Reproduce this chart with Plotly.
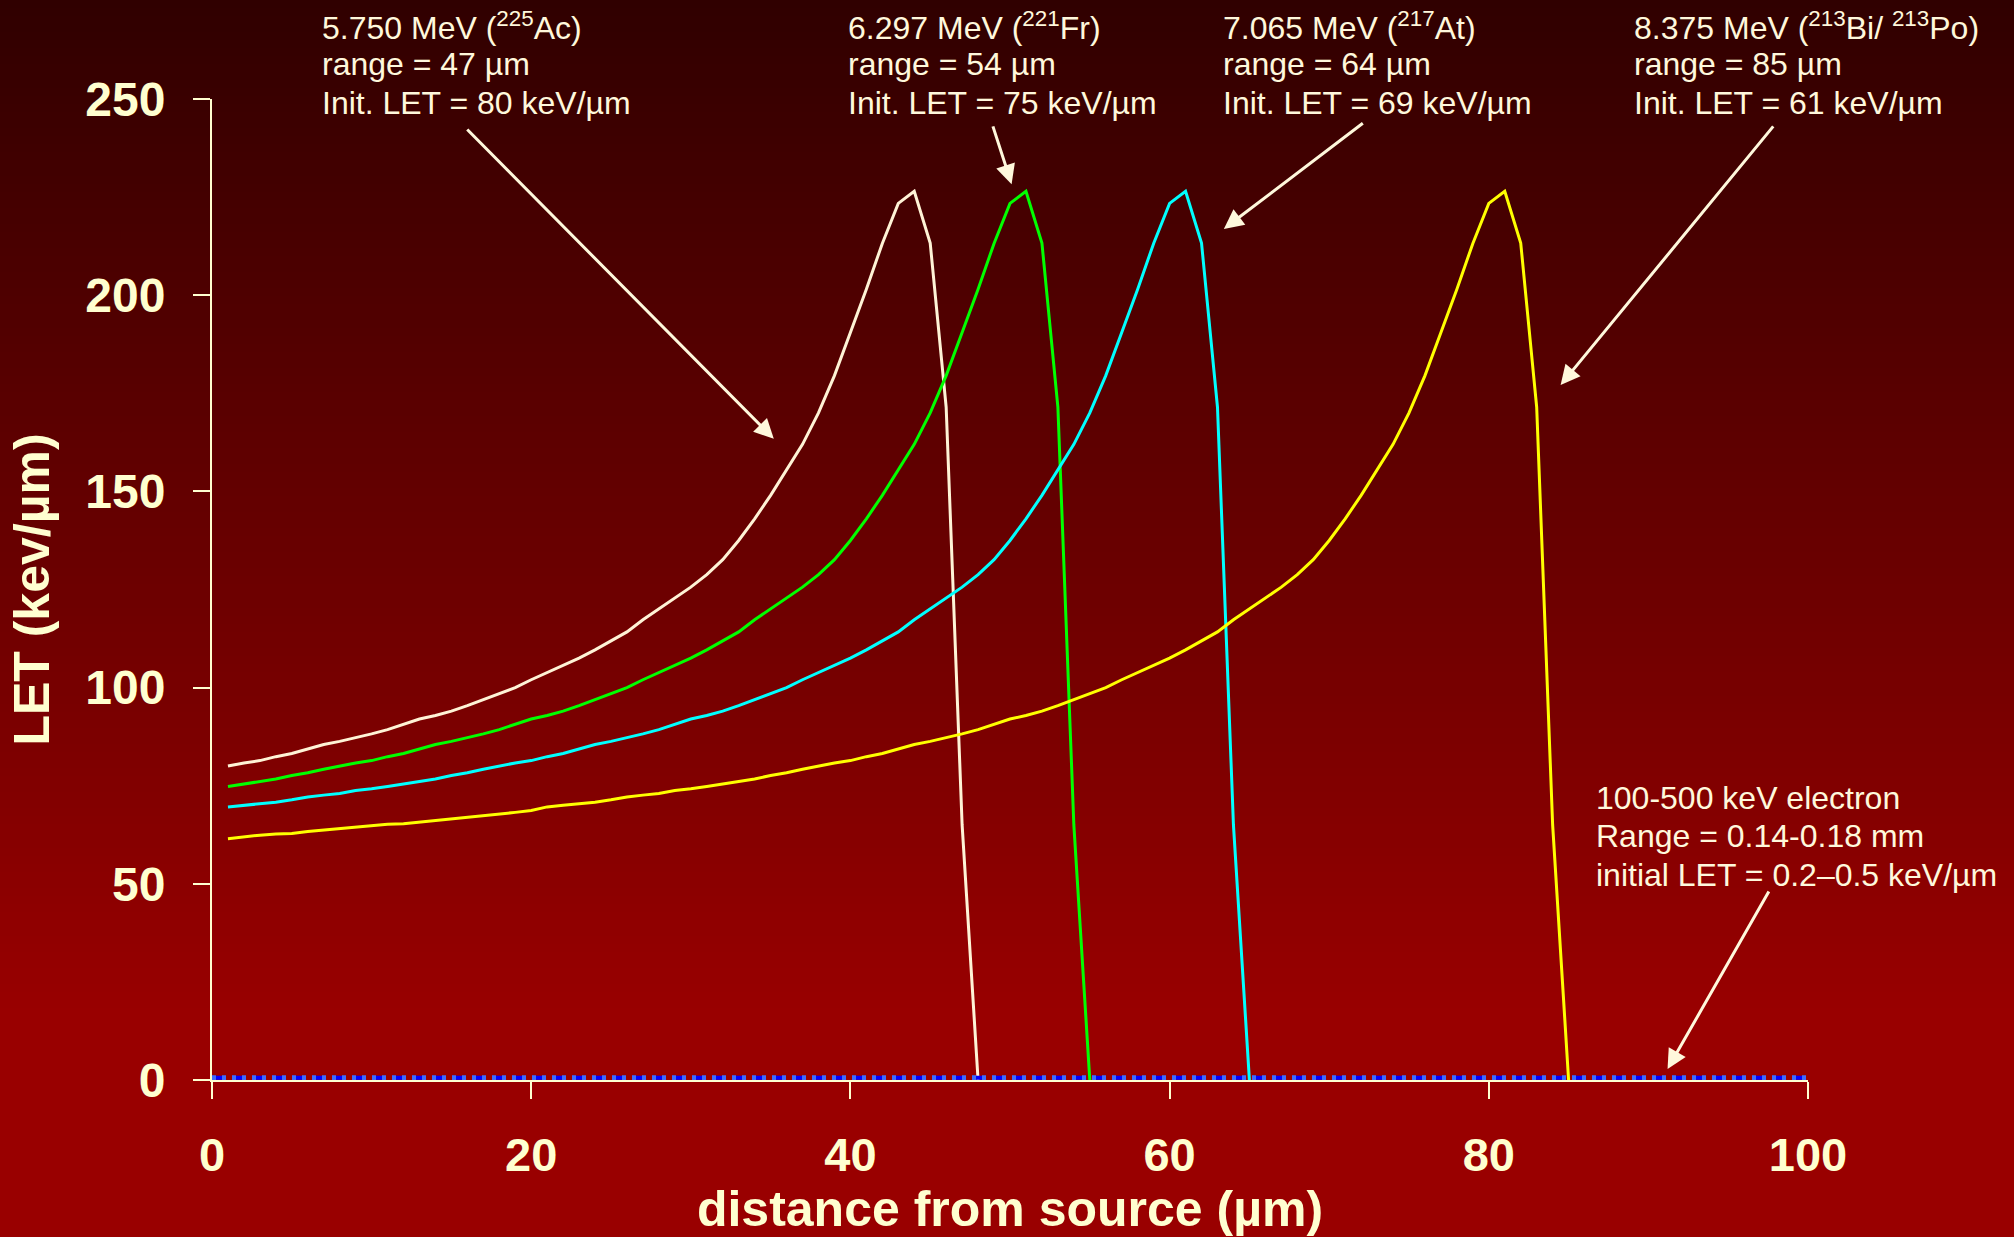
import plotly.graph_objects as go

# ---------------- data ----------------
# 5.750 MeV (225Ac) alpha, depth 1..48 um
depth_ac = list(range(1, 49))
let_ac = [80.0, 80.8, 81.4, 82.4, 83.2, 84.4, 85.5, 86.3, 87.2, 88.2,
          89.3, 90.7, 92.0, 92.9, 94.0, 95.4, 97.0, 98.5, 100.0, 102.0,
          103.8, 105.5, 107.5, 109.6, 111.8, 114.2, 117.3, 120.0, 122.7, 125.6,
          128.8, 132.6, 137.5, 143.0, 149.0, 155.5, 162.0, 170.0, 179.5, 190.5,
          201.5, 213.2, 223.4, 226.5, 213.3, 171.5, 65.0, 0.0]

# 6.297 MeV (221Fr) alpha, depth 1..55 um
depth_fr = list(range(1, 56))
let_fr = [74.8, 75.4, 76.0, 76.7, 77.6, 78.3, 79.2,
          80.0, 80.8, 81.4, 82.4, 83.2, 84.4, 85.5, 86.3, 87.2, 88.2,
          89.3, 90.7, 92.0, 92.9, 94.0, 95.4, 97.0, 98.5, 100.0, 102.0,
          103.8, 105.5, 107.5, 109.6, 111.8, 114.2, 117.3, 120.0, 122.7, 125.6,
          128.8, 132.6, 137.5, 143.0, 149.0, 155.5, 162.0, 170.0, 179.5, 190.5,
          201.5, 213.2, 223.4, 226.5, 213.3, 171.5, 65.0, 0.0]

# 7.065 MeV (217At) alpha, depth 1..65 um
depth_at = list(range(1, 66))
let_at = [69.6, 70.0, 70.4, 70.8, 71.4, 72.1, 72.6, 73.0, 73.8, 74.2,
          74.8, 75.4, 76.0, 76.7, 77.6, 78.3, 79.2,
          80.0, 80.8, 81.4, 82.4, 83.2, 84.4, 85.5, 86.3, 87.2, 88.2,
          89.3, 90.7, 92.0, 92.9, 94.0, 95.4, 97.0, 98.5, 100.0, 102.0,
          103.8, 105.5, 107.5, 109.6, 111.8, 114.2, 117.3, 120.0, 122.7, 125.6,
          128.8, 132.6, 137.5, 143.0, 149.0, 155.5, 162.0, 170.0, 179.5, 190.5,
          201.5, 213.2, 223.4, 226.5, 213.3, 171.5, 65.0, 0.0]

# 8.375 MeV (213Bi/213Po) alpha, depth 1..85 um
depth_bi = list(range(1, 86))
let_bi = [61.5, 62.0, 62.4, 62.7, 62.8, 63.3, 63.7, 64.1, 64.5, 64.9,
          65.2, 65.3, 65.7, 66.2, 66.6, 67.0, 67.4, 67.8, 68.2, 68.7,
          69.6, 70.0, 70.4, 70.8, 71.4, 72.1, 72.6, 73.0, 73.8, 74.2,
          74.8, 75.4, 76.0, 76.7, 77.6, 78.3, 79.2,
          80.0, 80.8, 81.4, 82.4, 83.2, 84.4, 85.5, 86.3, 87.2, 88.2,
          89.3, 90.7, 92.0, 92.9, 94.0, 95.4, 97.0, 98.5, 100.0, 102.0,
          103.8, 105.5, 107.5, 109.6, 111.8, 114.2, 117.3, 120.0, 122.7, 125.6,
          128.8, 132.6, 137.5, 143.0, 149.0, 155.5, 162.0, 170.0, 179.5, 190.5,
          201.5, 213.2, 223.4, 226.5, 213.3, 171.5, 65.0, 0.0]

# 100-500 keV electron
depth_e = [0, 100]
let_e = [0.6, 0.6]

x_ticks = [0, 20, 40, 60, 80, 100]
y_ticks = [0, 50, 100, 150, 200, 250]

# ---------------- styling ----------------
W, H = 2014, 1237
ML, MR, MT, MB = 212, 206, 99, 157
PW, PH = W - ML - MR, H - MT - MB
CREAM = "#FFFFD0"
TXT = "#FFF8DC"
FONT = "Liberation Sans, Arial, sans-serif"

fig = go.Figure()

series = [
    (depth_ac, let_ac, "#FFF3D6"),
    (depth_fr, let_fr, "#00FF00"),
    (depth_at, let_at, "#00FFFF"),
    (depth_bi, let_bi, "#FFFF00"),
]
for xs, ys, col in series:
    fig.add_trace(go.Scatter(x=xs, y=ys, mode="lines",
                             line=dict(color=col, width=3),
                             showlegend=False, hoverinfo="skip"))

fig.add_trace(go.Scatter(x=depth_e, y=let_e, mode="lines",
                         line=dict(color="#0000FF", width=4, dash="10px,10px"),
                         showlegend=False, hoverinfo="skip", cliponaxis=False))
fig.add_trace(go.Scatter(x=depth_e, y=let_e, mode="lines",
                         line=dict(color="#3D6BFF", width=5, dash="4px,6px"),
                         showlegend=False, hoverinfo="skip", cliponaxis=False))

# gradient background built from horizontal strips (pixel -> paper)
shapes = []
step = 8
for py in range(0, H, step):
    c = int(min(153, 48 + 0.104 * (py + step / 2)))
    y0 = (H - MB - (py + step)) / PH
    y1 = (H - MB - py) / PH
    shapes.append(dict(type="rect", xref="paper", yref="paper",
                       x0=-0.2, x1=1.2, y0=y0, y1=y1, layer="below",
                       line=dict(width=0), fillcolor=f"rgb({c},0,0)"))


def px_x(p):
    return (p - ML) / PW


def px_y(p):
    return (H - MB - p) / PH


ann_font = dict(family=FONT, size=32, color=TXT)
annotations = []
top_line_y = [26, 64, 103]
labels = [
    (320, ["5.750 MeV (<sup>225</sup>Ac)", "range = 47 µm", "Init. LET = 80 keV/µm"]),
    (846, ["6.297 MeV (<sup>221</sup>Fr)", "range = 54 µm", "Init. LET = 75 keV/µm"]),
    (1221, ["7.065 MeV (<sup>217</sup>At)", "range = 64 µm", "Init. LET = 69 keV/µm"]),
    (1632, ["8.375 MeV (<sup>213</sup>Bi/ <sup>213</sup>Po)", "range = 85 µm", "Init. LET = 61 keV/µm"]),
]
for lx, lines in labels:
    for ly, txt in zip(top_line_y, lines):
        annotations.append(dict(xref="paper", yref="paper", x=px_x(lx), y=px_y(ly),
                                xanchor="left", yanchor="middle", align="left",
                                text=txt, showarrow=False, font=ann_font))
e_lines = ["100-500 keV electron", "Range = 0.14-0.18 mm", "initial LET = 0.2–0.5 keV/µm"]
for ly, txt in zip([798, 836, 875], e_lines):
    annotations.append(dict(xref="paper", yref="paper", x=px_x(1594), y=px_y(ly),
                            xanchor="left", yanchor="middle", align="left",
                            text=txt, showarrow=False, font=ann_font))

arrows = [  # (tail x, tail y, head x, head y) in data units
    (15.9, 242.6, 35.2, 163.4),
    (48.9, 243.4, 50.1, 228.3),
    (72.2, 244.1, 63.4, 216.9),
    (97.9, 243.4, 84.5, 177.1),
    (97.6, 48.4, 91.2, 2.8),
]
for tx, ty, hx, hy in arrows:
    annotations.append(dict(xref="x", yref="y", axref="x", ayref="y",
                            x=hx, y=hy, ax=tx, ay=ty, text="", showarrow=True,
                            arrowhead=2, arrowsize=1.3, arrowwidth=3,
                            arrowcolor=TXT, standoff=0, startstandoff=0))

fig.update_layout(
    width=W, height=H,
    margin=dict(l=ML, r=MR, t=MT, b=MB, pad=0, autoexpand=False),
    paper_bgcolor="#990000", plot_bgcolor="rgba(0,0,0,0)",
    shapes=shapes, annotations=annotations,
    showlegend=False,
    font=dict(family=FONT, color=CREAM),
)
fig.update_xaxes(range=[0, 100], tickvals=x_ticks, showgrid=False, zeroline=False,
                 automargin=False,
                 showline=True, linecolor=CREAM, linewidth=2,
                 ticks="outside", ticklen=17, tickwidth=2, tickcolor=CREAM,
                 tickfont=dict(family=FONT, size=47, color=CREAM, weight="bold"),
                 ticklabelstandoff=16,
                 title=dict(text="distance from source (µm)", standoff=0,
                            font=dict(family=FONT, size=50, color=CREAM, weight="bold")))
fig.update_yaxes(range=[0, 250], tickvals=y_ticks, showgrid=False, zeroline=False,
                 automargin=False,
                 showline=True, linecolor=CREAM, linewidth=2,
                 ticks="outside", ticklen=17, tickwidth=2, tickcolor=CREAM,
                 tickfont=dict(family=FONT, size=48, color=CREAM, weight="bold"),
                 ticklabelstandoff=18,
                 title=dict(text="LET (kev/µm)", standoff=20,
                            font=dict(family=FONT, size=50, color=CREAM, weight="bold")))

fig.write_html("out.html", config={"displayModeBar": False},
               post_script="document.body.style.margin='0';document.body.style.overflow='hidden';")
